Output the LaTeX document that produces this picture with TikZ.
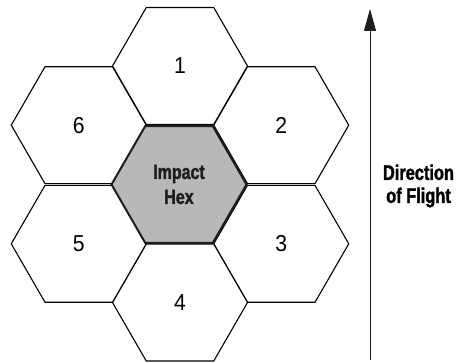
\documentclass[tikz,border=0pt]{standalone}
\usepackage{fontspec}
\setmainfont{Liberation Sans}
\newfontfamily\condbold[FakeStretch=0.78,FakeBold=1.6]{Liberation Sans Bold}
\newfontfamily\condreg[FakeStretch=0.92]{Liberation Sans}
\usetikzlibrary{shapes.geometric,arrows.meta}
\definecolor{hexgray}{HTML}{B8B8B8}
\definecolor{inkdark}{HTML}{1E1E1E}
\tikzset{
  hexcell/.style={regular polygon, regular polygon sides=6, minimum size=135pt,
    inner sep=0pt, draw=black, line width=1.1pt, fill=white,
    font=\condreg\fontsize{23}{23}\selectfont},
  impacthex/.style={hexcell, fill=hexgray, draw=inkdark, line width=2pt,
    font=\condbold\fontsize{20.5}{25}\selectfont, text=inkdark, align=center},
  flightlabel/.style={font=\condbold\fontsize{21}{23}\selectfont, align=center, text=black},
  flightarrow/.style={draw=inkdark, line width=1pt, -{Triangle[length=22pt,width=12pt]}}
}
\begin{document}
\begin{tikzpicture}[x=1pt,y=-1pt]
  \useasboundingbox (0,0) rectangle (457,363);
  \node[hexcell] (h1) at (180,66) {1};
  \node[hexcell] (h2) at (281.25,125.2) {2};
  \node[hexcell] (h3) at (281.25,243.8) {3};
  \node[hexcell] (h4) at (180,302.5) {4};
  \node[hexcell] (h5) at (78.75,243.8) {5};
  \node[hexcell] (h6) at (78.75,125.2) {6};
  \node[impacthex] (hc) at (179,184.5) {Impact\\Hex};
  \coordinate (arrowfoot) at (370,360);
  \coordinate (arrowtip) at (370,9);
  \draw[flightarrow] (arrowfoot) -- (arrowtip);
  \node[flightlabel] (dir) at (418.5,186) {Direction\\of Flight};
\end{tikzpicture}
\end{document}
